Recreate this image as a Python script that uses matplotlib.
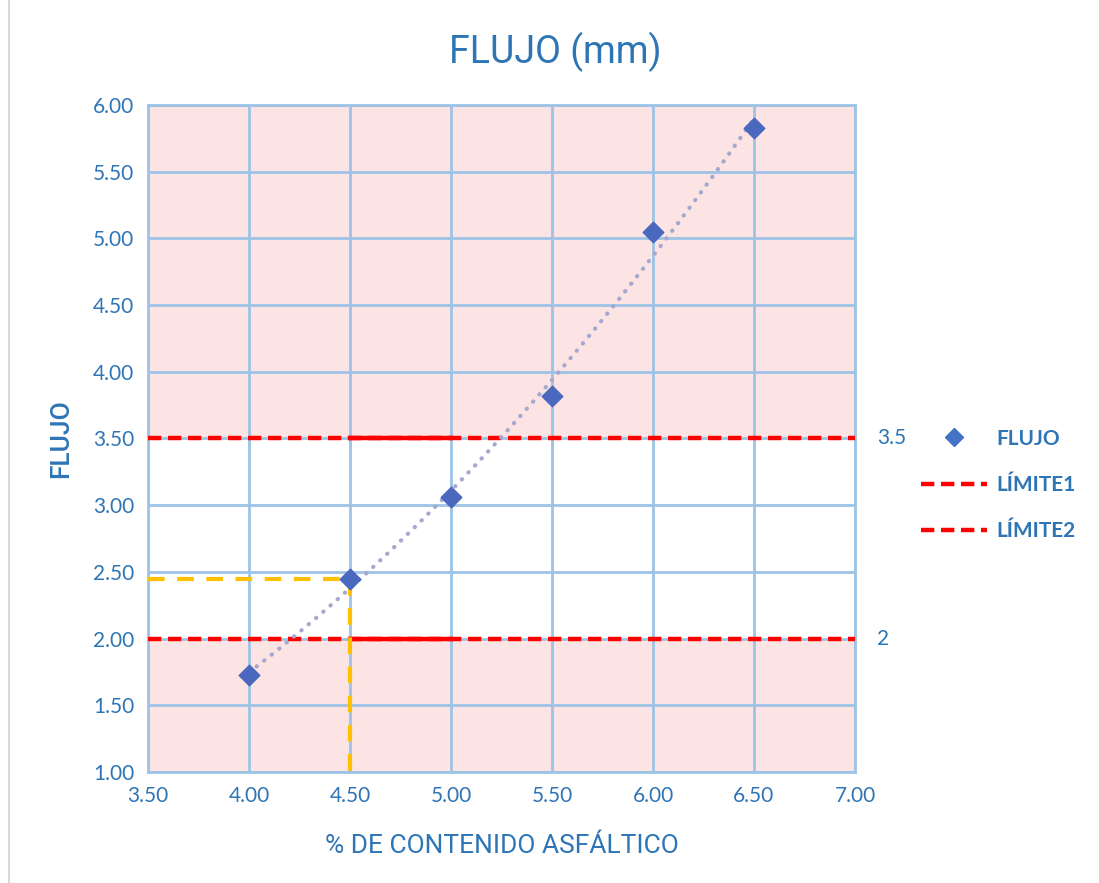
import matplotlib.pyplot as plt
import numpy as np
from matplotlib.lines import Line2D

# datos del ensayo
asfalto = [4.0, 4.5, 5.0, 5.5, 6.0, 6.5]
flujo = [1.73, 2.45, 3.06, 3.82, 5.05, 5.83]

limite1 = 3.5
limite2 = 2.0
limite_x = [3.5, 7.0]
tramo_solido = [4.5, 5.0]

# lectura del optimo
x_opt = 4.5
y_opt = 2.45

xticks = [3.5, 4.0, 4.5, 5.0, 5.5, 6.0, 6.5, 7.0]
yticks = [1.0, 1.5, 2.0, 2.5, 3.0, 3.5, 4.0, 4.5, 5.0, 5.5, 6.0]

azul = "#2E75B6"
fig = plt.figure(figsize=(10.99, 8.83), dpi=100)
ax = fig.add_axes([148/1099, 1-772/883, (855-148)/1099, (772-105)/883])

ax.set_xlim(3.5, 7.0)
ax.set_ylim(1.0, 6.0)
ax.set_xticks(xticks)
ax.set_yticks(yticks)
ax.set_xticklabels([f"{v:.2f}" for v in xticks])
ax.set_yticklabels([f"{v:.2f}" for v in yticks])
ax.tick_params(length=0, labelsize=15, labelcolor=azul, pad=10, labelfontfamily="Lato")
ax.grid(True, color="#9DC3E6", linewidth=2, zorder=0)
for s in ax.spines.values():
    s.set_color("#9DC3E6")
    s.set_linewidth(2)

# zonas fuera de limites
ax.axhspan(limite1, 6.0, color="#F6A8A8", alpha=0.3, lw=0, zorder=1)
ax.axhspan(1.0, limite2, color="#F6A8A8", alpha=0.3, lw=0, zorder=1)

# lineas limite
for lim in (limite1, limite2):
    ax.plot(limite_x, [lim, lim], color="red", lw=3.2, ls=(0, (3, 1.5)), zorder=3)
    ax.plot(tramo_solido, [lim, lim], color="red", lw=3.2, zorder=3)
    ax.text(7.11, lim, f"{lim:g}", color=azul, fontsize=15, va="center",
            family="Lato", transform=ax.transData)

# lineas de lectura
ax.plot([3.5, x_opt], [y_opt, y_opt], color="#FFC000", lw=3, ls=(0, (4, 3)), zorder=3)
ax.plot([x_opt, x_opt], [y_opt, 1.0], color="#FFC000", lw=3, ls=(0, (4, 3)), zorder=3)

# tendencia polinomica
coef = np.polyfit(asfalto, flujo, 2)
xt = np.linspace(asfalto[0], asfalto[-1], 100)
ax.plot(xt, np.polyval(coef, xt), color="#A5A9D0", lw=3, ls=(0, (0.1, 2.2)),
        dash_capstyle="round", zorder=4)

ax.scatter(asfalto, flujo, marker="D", s=110, color="#4A68BE", zorder=5)

fig.text(555/1099, 1-52/883, "FLUJO (mm)", fontsize=27, color=azul, family="Roboto",
         ha="center", va="center")
ax.set_xlabel("% DE CONTENIDO ASFÁLTICO", fontsize=19, color=azul, family="Roboto",
              labelpad=20)
ax.set_ylabel("FLUJO", fontsize=19, color=azul, family="Roboto", weight="medium",
              labelpad=14)

handles = [
    Line2D([], [], marker="D", color="#4472C4", ls="none", markersize=9),
    Line2D([], [], color="red", lw=3.2, ls=(0, (3, 1.5))),
    Line2D([], [], color="red", lw=3.2, ls=(0, (3, 1.5))),
]
fig.legend(handles, ["FLUJO", "LÍMITE1", "LÍMITE2"], loc="upper left",
           bbox_to_anchor=(902/1099, 1-410/883), frameon=False,
           prop={"family": "Lato", "weight": "bold", "size": 15},
           labelcolor=azul, labelspacing=1.25, handlelength=3.2, handletextpad=0.45)

fig.add_artist(Line2D([9/1099, 9/1099], [0, 1], color="#D9D9D9", lw=1.5))

fig.savefig("out.png", dpi=100)
